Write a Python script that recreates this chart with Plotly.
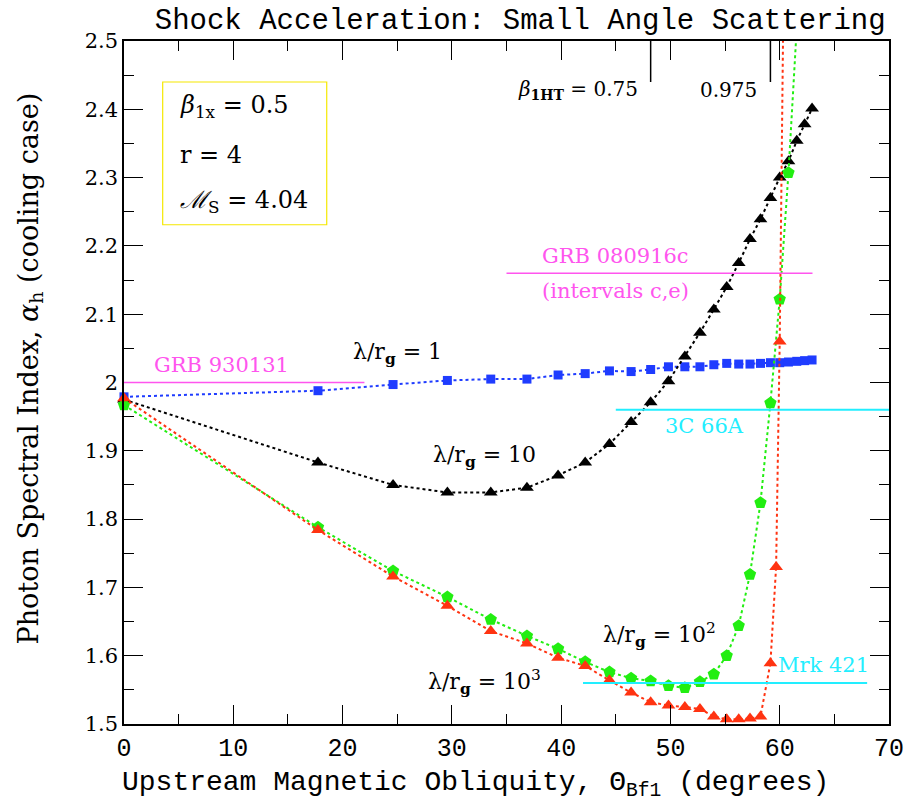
import numpy as np
import plotly.graph_objects as go

# Upstream field obliquity (degrees) sampled by the simulations
theta = [0.0, 17.75, 24.62, 29.59, 33.56, 36.87, 39.72, 42.20, 44.42, 46.40,
         48.19, 49.82, 51.32, 52.70, 53.97, 55.15, 56.25, 57.28, 58.24, 59.15,
         60.00, 60.80, 61.56, 62.28, 62.96]

# Photon spectral index for each mean-free-path ratio lambda/r_g
alpha_1 = [1.979, 1.988, 1.997, 2.003, 2.005, 2.005, 2.011, 2.013, 2.017, 2.016,
           2.019, 2.023, 2.023, 2.023, 2.026, 2.028, 2.027, 2.027, 2.028, 2.029,
           2.029, 2.030, 2.031, 2.032, 2.033]
alpha_10 = [1.975, 1.883, 1.850, 1.839, 1.839, 1.846, 1.864, 1.883, 1.910, 1.942,
            1.971, 2.002, 2.038, 2.073, 2.107, 2.140, 2.175, 2.210, 2.239, 2.270,
            2.300, 2.324, 2.354, 2.378, 2.401]
theta_100 = theta[:23]
alpha_100 = [1.967, 1.788, 1.724, 1.686, 1.653, 1.629, 1.610, 1.591, 1.576, 1.567,
             1.563, 1.556, 1.553, 1.562, 1.573, 1.600, 1.644, 1.719, 1.824, 1.970,
             2.122, 2.307, 2.520]
theta_1000 = [0.0, 17.75, 24.62, 29.59, 33.56, 36.87, 39.72, 42.20, 44.42, 46.40,
              48.19, 49.82, 51.32, 52.70, 53.97, 55.15, 56.25, 57.28, 58.24, 59.15,
              59.67, 60.00, 60.80]
alpha_1000 = [1.977, 1.784, 1.716, 1.673, 1.636, 1.618, 1.597, 1.585, 1.564, 1.546,
              1.532, 1.527, 1.525, 1.522, 1.511, 1.507, 1.507, 1.508, 1.511, 1.589,
              1.730, 2.060, 3.230]

# Observed spectral indices: (name, alpha, theta_start, theta_end)
obs_grb930131 = ("GRB 930131", 2.00, 0.0, 22.0)
obs_grb080916 = ("GRB 080916c", 2.16, 35.0, 63.0)
obs_3c66a = ("3C 66A", 1.96, 45.0, 70.0)
obs_mrk421 = ("Mrk 421", 1.56, 42.0, 68.0)

# Obliquities where the de Hoffmann-Teller speed beta_1HT = 0.75 and 0.975
beta_ht_theta = [48.19, 59.15]
beta_ht_labels = ["<i>β</i><sub><b>1HT</b></sub> = 0.75", "0.975"]

X_RANGE = [0, 70]
Y_RANGE = [1.5, 2.5]

BLUE = "#1f3cff"
BLACK = "#000000"
GREEN = "#22ee11"
RED = "#ff3311"
MAGENTA = "#ff55ee"
CYAN = "#22eeff"

SERIF = "DejaVu Serif"
MONO = "Liberation Mono"

fig = go.Figure()


def add_series(x, y, color, symbol, size):
    x = np.asarray(x, dtype=float)
    y = np.asarray(y, dtype=float)
    # dotted connecting line, clipped to the frame
    fig.add_trace(go.Scatter(x=x, y=y, mode="lines",
                             line=dict(color=color, width=2, dash="dot"),
                             hoverinfo="skip", showlegend=False))
    # markers inside the axis range, drawn unclipped so the ones on the axis stay whole
    inside = (y >= Y_RANGE[0]) & (y <= Y_RANGE[1])
    fig.add_trace(go.Scatter(x=x[inside], y=y[inside], mode="markers",
                             marker=dict(color=color, symbol=symbol, size=size,
                                         line=dict(width=0)),
                             cliponaxis=False, showlegend=False))


# observation reference lines
for name, a, t0, t1 in [obs_grb930131, obs_grb080916]:
    fig.add_shape(type="line", x0=t0, x1=t1, y0=a, y1=a, xref="x", yref="y",
                  line=dict(color=MAGENTA, width=1.5))
for name, a, t0, t1 in [obs_3c66a, obs_mrk421]:
    fig.add_shape(type="line", x0=t0, x1=t1, y0=a, y1=a, xref="x", yref="y",
                  line=dict(color=CYAN, width=2))

add_series(theta, alpha_1, BLUE, "square", 9)
add_series(theta, alpha_10, BLACK, "triangle-up", 12)
add_series(theta_100, alpha_100, GREEN, "pentagon", 13)
add_series(theta_1000, alpha_1000, RED, "triangle-up", 12)

# beta_1HT markers hanging from the top axis
for t in beta_ht_theta:
    fig.add_shape(type="line", x0=t, x1=t, y0=2.5, y1=2.44, xref="x", yref="y",
                  line=dict(color=BLACK, width=1.5))

ann = []


def label(x, y, text, color=BLACK, size=21, font=SERIF, xanchor="center"):
    ann.append(dict(x=x, y=y, xref="x", yref="y", text=text, showarrow=False,
                    xanchor=xanchor, yanchor="middle",
                    font=dict(family=font, size=size, color=color)))


label(41.5, 2.428, beta_ht_labels[0], size=20)
label(55.3, 2.428, beta_ht_labels[1], size=20)

label(8.9, 2.026, obs_grb930131[0], MAGENTA)
label(45.0, 2.185, obs_grb080916[0], MAGENTA)
label(45.0, 2.134, "(intervals c,e)", MAGENTA)
label(53.1, 1.936, obs_3c66a[0], CYAN)
label(64.0, 1.586, obs_mrk421[0], CYAN)

label(25.0, 2.043, "λ/r<sub><b>g</b></sub> = 1", size=22)
label(33.0, 1.891, "λ/r<sub><b>g</b></sub> = 10", size=22)
label(49.0, 1.630, "λ/r<sub><b>g</b></sub> = 10<sup>2</sup>", size=22)
label(33.0, 1.562, "λ/r<sub><b>g</b></sub> = 10<sup>3</sup>", size=22)

# shock parameter box
fig.add_shape(type="rect", x0=3.54, x1=18.55, y0=2.231, y1=2.440, xref="x", yref="y",
              line=dict(color="#f5e800", width=1.2))
label(4.9, 2.404, "<i>β</i><sub>1x</sub> = 0.5", size=24, xanchor="left")
label(4.9, 2.333, "r = 4", size=24, xanchor="left")
label(4.9, 2.265, "<i>ℳ</i><sub>S</sub> = 4.04", size=24, xanchor="left")

# axis titles
ann.append(dict(x=0.46, y=-0.089, xref="paper", yref="paper", showarrow=False,
                text="Upstream Magnetic Obliquity, Θ<sub>Bf1</sub> (degrees)",
                xanchor="center", yanchor="middle",
                font=dict(family=MONO, size=28, color=BLACK)))
ann.append(dict(x=-0.122, y=0.52, xref="paper", yref="paper", showarrow=False,
                text="Photon Spectral Index, <i>α</i><sub>h</sub> (cooling case)",
                textangle=-90, xanchor="center", yanchor="middle",
                font=dict(family=SERIF, size=27, color=BLACK)))

fig.update_layout(
    width=924, height=804,
    margin=dict(l=124, r=35, t=41, b=80),
    paper_bgcolor="white", plot_bgcolor="white",
    showlegend=False,
    annotations=ann,
    title=dict(text="Shock Acceleration: Small Angle Scattering",
               x=0.563, xref="container", xanchor="center",
               y=0.977, yref="container", yanchor="middle",
               font=dict(family=MONO, size=29, color=BLACK)),
)

axis_common = dict(showgrid=False, zeroline=False, showline=True, linecolor=BLACK,
                   linewidth=1.5, mirror="allticks", ticks="inside",
                   tickcolor=BLACK, tickwidth=1.2)

fig.update_xaxes(range=X_RANGE, tick0=0, dtick=10, ticklen=19,
                 minor=dict(dtick=5, ticklen=10, ticks="inside", tickcolor=BLACK,
                            tickwidth=1.2),
                 tickfont=dict(family=MONO, size=25, color=BLACK),
                 **axis_common)
fig.update_yaxes(range=Y_RANGE, tick0=1.5, dtick=0.1, ticklen=19,
                 minor=dict(dtick=0.05, ticklen=10, ticks="inside", tickcolor=BLACK,
                            tickwidth=1.2),
                 tickfont=dict(family=SERIF, size=21, color=BLACK),
                 **axis_common)

fig.write_html("out.html")
